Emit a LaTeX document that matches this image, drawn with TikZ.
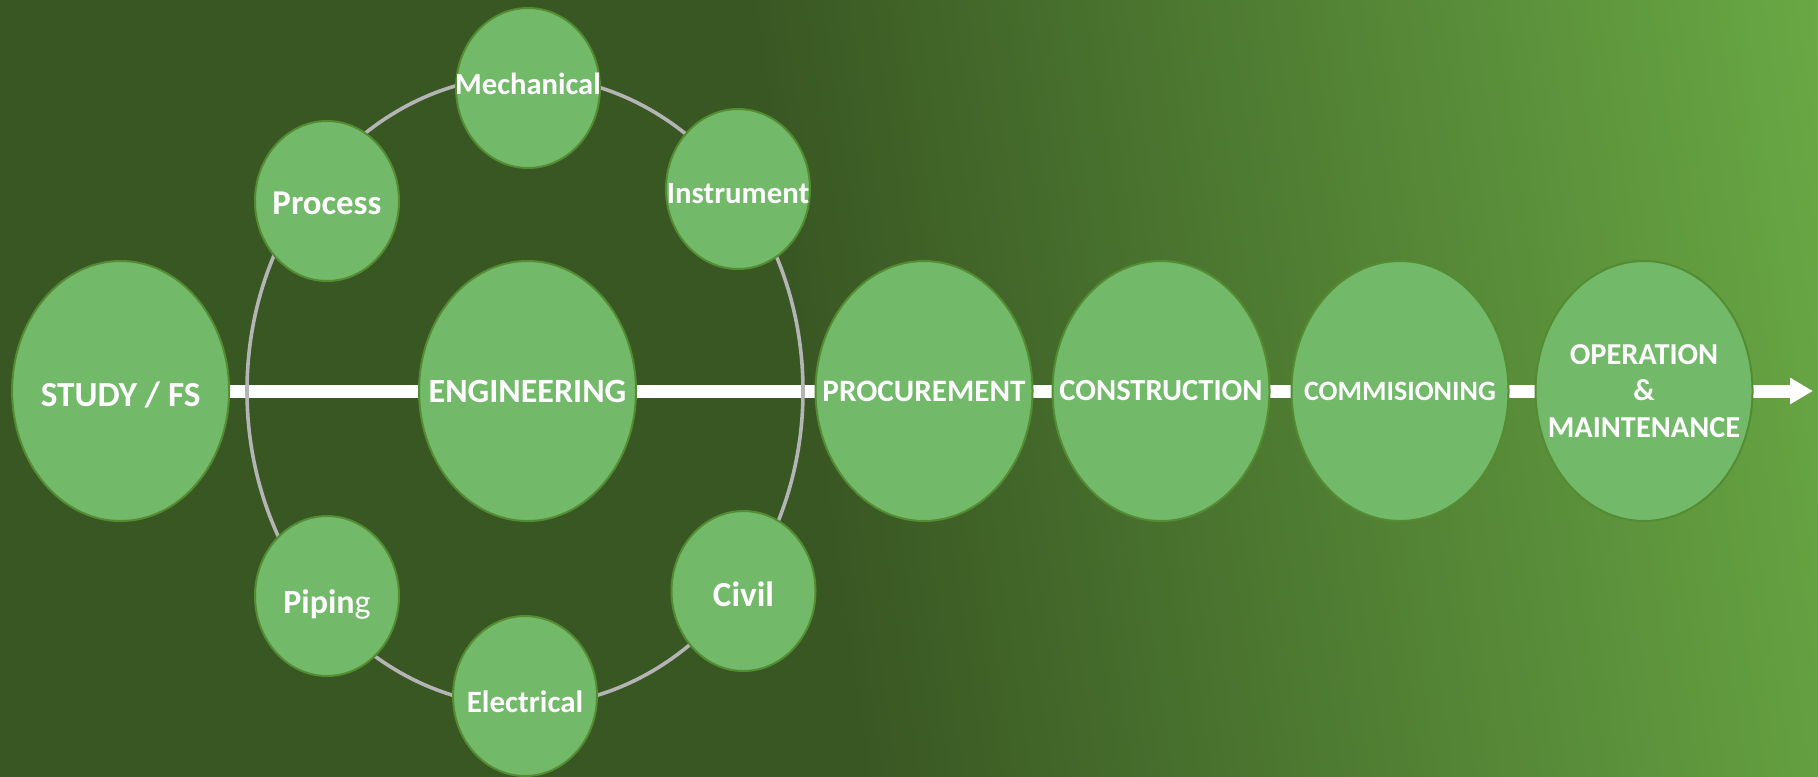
\documentclass[tikz,border=0pt]{standalone}
\usepackage{fontspec}
\setmainfont{Carlito}
\usetikzlibrary{shapes.geometric,arrows.meta,backgrounds}
\definecolor{bgDark}{HTML}{395723}
\definecolor{bgLight}{HTML}{6AAA45}
\definecolor{stageFill}{HTML}{72B96A}
\definecolor{stageLine}{HTML}{548C32}
\definecolor{ringLine}{HTML}{B4B4B4}
\pgfdeclarehorizontalshading{slideBg}{100bp}{color(0bp)=(bgDark); color(47bp)=(bgDark); color(79bp)=(bgLight); color(100bp)=(bgLight)}

\begin{document}
\begin{tikzpicture}[
  x=0.5pt, y=-0.5pt,
  stage/.style={
    ellipse,
    draw=stageLine,
    line width=1pt,
    fill=stageFill,
    inner sep=0pt,
  },
  big/.style={
    stage,
    minimum width=108.5pt,
    minimum height=130pt,
  },
  small/.style={
    stage,
    minimum width=72pt,
    minimum height=80pt,
  },
  lbl/.style={
    text=white,
    align=center,
    font=\fontsize{#1}{18.3}\bfseries\selectfont
  },
  flow bar/.style={
    draw=white,
    line width=6.5pt,
    -{Triangle[length=11.5pt,width=12.5pt]},
  },
  ring/.style={
    draw=ringLine,
    line width=1.8pt,
  }
]
\useasboundingbox (0,0) rectangle (1818,776);
% the stages along the line
\node[big,label={[lbl=17.6,yshift=-2pt]center:{STUDY / FS}}] (study) at (120.6,391) {};
\node[big,label={[lbl=17]center:ENGINEERING}] (eng) at (527.5,391) {};
\node[big,label={[lbl=15.6]center:PROCUREMENT}] (proc) at (924,391) {};
\node[big,label={[lbl=15.3]center:CONSTRUCTION}] (cons) at (1161,391) {};
\node[big,label={[lbl=14]center:COMMISIONING}] (comm) at (1400,391) {};
\node[big,label={[lbl=15.2]center:{OPERATION\\\&\\MAINTENANCE}}] (om) at (1644,391) {};
% the disciplines round engineering
\foreach \n/\x/\y/\s/\d/\t in {process/327/201/17.4/-1/Process,
    mech/528/88/15.3/2.3/Mechanical,
    instr/738/189/15.4/-2.3/Instrument,
    civil/743.5/591/17.6/-1.7/Civil,
    elec/525/696/15.5/-3/Electrical,
    piping/327/596/17/-4/{Pipin{\mdseries g}}} {
  \node[small,label={[lbl=\s,yshift=\d pt]center:{\t}}] (\n) at (\x,\y) {};
}
\begin{scope}[on background layer]
  \shade[shading=slideBg,shading angle=8.4] (0,0) rectangle (1818,776);
  \coordinate (tip) at (1813,391);
  \draw[flow bar] (study.east) -- (tip);
  \draw[ring] (525,391) ellipse [x radius=278,y radius=315];
\end{scope}
\end{tikzpicture}
\end{document}
